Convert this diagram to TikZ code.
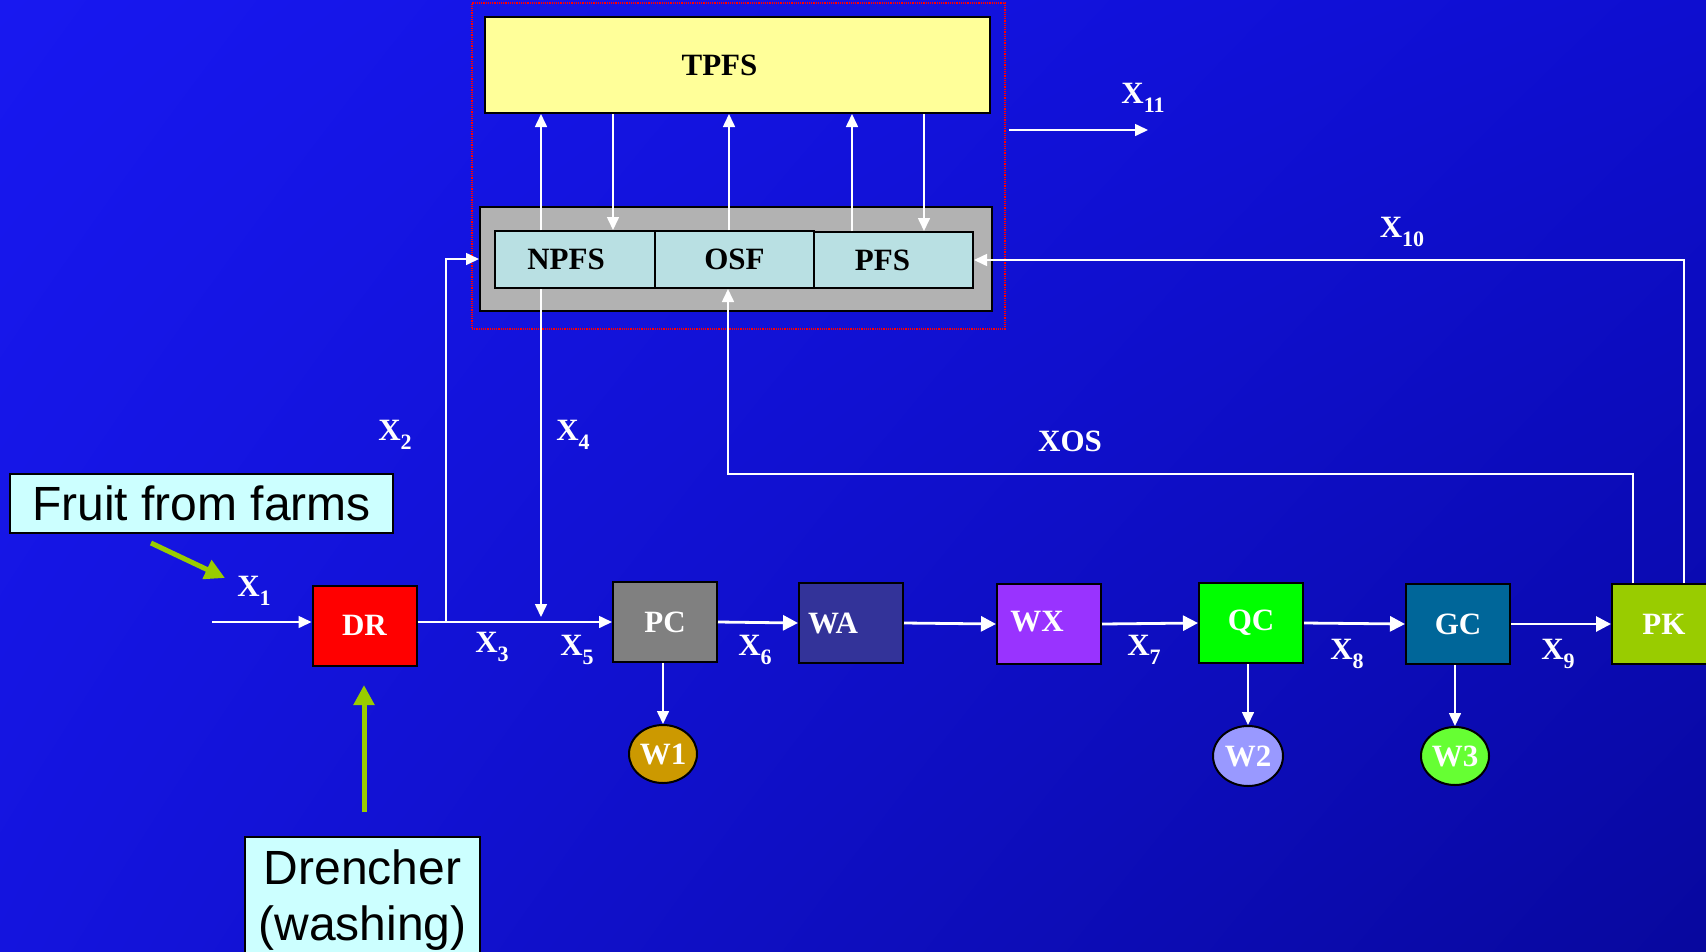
\documentclass[tikz,border=0pt]{standalone}
\usepackage{fontspec}
\setmainfont{Liberation Serif}
\newfontfamily\arialfont{Liberation Sans}
\usetikzlibrary{arrows.meta,calc,shadings,shapes.geometric}
\definecolor{bgUL}{RGB}{24,24,240}
\definecolor{bgLL}{RGB}{20,20,222}
\definecolor{bgUR}{RGB}{14,14,208}
\definecolor{bgLR}{RGB}{8,8,158}
\definecolor{cDR}{RGB}{255,0,0}
\definecolor{cPC}{RGB}{128,128,128}
\definecolor{cWA}{RGB}{51,51,153}
\definecolor{cWX}{RGB}{153,51,255}
\definecolor{cQC}{RGB}{0,255,0}
\definecolor{cGC}{RGB}{0,102,153}
\definecolor{cPK}{RGB}{153,204,0}
\definecolor{cW1}{RGB}{204,153,0}
\definecolor{cW2}{RGB}{153,153,255}
\definecolor{cW3}{RGB}{102,255,51}
\definecolor{cTPFS}{RGB}{255,255,153}
\definecolor{cGray}{RGB}{178,178,178}
\definecolor{cSub}{RGB}{185,224,227}
\definecolor{cNote}{RGB}{204,255,255}
\definecolor{cGreen}{RGB}{153,204,0}
\newcommand\Xlab[1]{X\raisebox{-0.3em}{\fontsize{22}{22}\selectfont #1}}
\tikzset{
  lbl/.style={font=\fontsize{31}{36}\selectfont\bfseries},
  unit/.style={draw=black,line width=2pt,minimum width=104pt,minimum height=80pt,inner sep=0pt,
     text=white,font=\fontsize{31}{36}\selectfont\bfseries},
  waste/.style={ellipse,draw=black,line width=2pt,minimum width=68pt,minimum height=58pt,inner sep=0pt,
     text=white,font=\fontsize{31}{36}\selectfont\bfseries},
  sub/.style={draw=black,line width=2pt,fill=cSub,inner sep=0pt,minimum height=57pt,
     font=\fontsize{31}{36}\selectfont\bfseries},
  note/.style={draw=black,line width=2pt,fill=cNote,inner sep=0pt,
     font=\arialfont\fontsize{48}{56}\selectfont},
  notetext/.style={inner sep=0pt,font=\arialfont\fontsize{48}{56}\selectfont},
  flow/.style={draw=white,line width=1.6pt,-{Triangle[length=13pt,width=12pt]}},
  mainflow/.style={draw=white,line width=2.8pt,-{Triangle[length=15pt,width=15pt]}},
  garrow/.style={draw=cGreen,line width=5pt,-{Triangle[length=20pt,width=20pt]}},
  xlabel/.style={text=white,font=\fontsize{31}{36}\selectfont\bfseries,inner sep=0pt}
}
\begin{document}
\begin{tikzpicture}[x=1pt,y=-1pt]
\useasboundingbox (0,0) rectangle (1706,951);
\clip (0,0) rectangle (1706,951);
\shade[upper left=bgUL,lower left=bgLL,upper right=bgUR,lower right=bgLR] (0,0) rectangle (1706,951);

% red dotted frame
\node[draw=red,densely dotted,line width=1.2pt,minimum width=533pt,minimum height=326pt,inner sep=0pt] (frame) at (738.5,166) {};

% upper system
\node[draw=black,line width=2pt,fill=cTPFS,minimum width=505pt,minimum height=96pt,inner sep=0pt,
      label={[lbl,xshift=-18pt]center:TPFS}] (TPFS) at (737.5,65) {};
\node[draw=black,line width=2pt,fill=cGray,minimum width=512pt,minimum height=104pt,inner sep=0pt] (gray) at (736,259) {};
\node[sub,minimum width=160pt,label={[lbl,xshift=-9pt]center:NPFS}] (NPFS) at (575,259.5) {};
\node[sub,minimum width=159pt,label={[lbl]center:OSF}] (OSF) at (734.5,259.5) {};
\node[sub,minimum width=159pt,minimum height=56pt,label={[lbl,xshift=-11pt]center:PFS}] (PFS) at (893.5,260) {};

% process units
\node[unit,fill=cDR] (DR) at (364.5,625.5) {DR};
\node[unit,fill=cPC] (PC) at (665,622) {PC};
\node[unit,fill=cWA,label={[text=white,font=\fontsize{31}{36}\selectfont\bfseries,xshift=-18pt]center:WA}] (WA) at (851,623) {};
\node[unit,fill=cWX,label={[text=white,font=\fontsize{31}{36}\selectfont\bfseries,xshift=-12pt,yshift=2pt]center:WX}] (WX) at (1049,624) {};
\node[unit,fill=cQC] (QC) at (1251,623) {QC};
\node[unit,fill=cGC] (GC) at (1458,624) {GC};
\node[unit,fill=cPK] (PK) at (1664,624) {PK};

\node[waste,fill=cW1] (W1) at (663,754) {W1};
\node[waste,fill=cW2,minimum width=70pt,minimum height=60pt] (W2) at (1248,756) {W2};
\node[waste,fill=cW3] (W3) at (1455,756) {W3};

% notes
\node[note,minimum width=383pt,minimum height=59pt] (fruit) at (201.5,503.5) {Fruit from farms};
\node[note,minimum width=235pt,minimum height=140pt,anchor=north] (drench) at (362.5,836) {};
\node[notetext] (drenchA) at (362.5,867) {Drencher};
\node[notetext] (drenchB) at (362.5,928) {(washing)};

% coordinates
\coordinate (x1s) at (212,622);
\coordinate (j2) at (446,622);
\coordinate (c1) at (541,0);
\coordinate (c2) at (613,0);
\coordinate (c3) at (729,0);
\coordinate (c4) at (852,0);
\coordinate (c5) at (924,0);
\coordinate (x4e) at (541,617);
\coordinate (xosA) at (1633,0);
\coordinate (xosY) at (0,474);
\coordinate (xosX) at (728,0);
\coordinate (x10A) at (1684,0);
\coordinate (x11s) at (1009,130);
\coordinate (x11e) at (1148,130);
\coordinate (gfs) at (151,543);
\coordinate (gfe) at (225,578);
\coordinate (gds) at (364,812);
\coordinate (gde) at (364,685);

% connectors
\draw[flow] (x1s) -- (x1s -| DR.west);
\draw[flow] (DR.east |- PC.west) -- (PC.west);
\draw[flow] (j2) |- (gray.west);
\draw[flow] (x4e |- NPFS.south) -- (x4e);
\draw[flow] (c1 |- NPFS.north) -- (c1 |- TPFS.south);
\draw[flow] (c2 |- TPFS.south) -- (c2 |- NPFS.north);
\draw[flow] (c3 |- OSF.north) -- (c3 |- TPFS.south);
\draw[flow] (c4 |- PFS.north) -- (c4 |- TPFS.south);
\draw[flow] (c5 |- TPFS.south) -- (c5 |- PFS.north);
\draw[mainflow] (PC.east) -- (WA.west);
\draw[mainflow] (WA.east) -- (WX.west);
\draw[mainflow] (WX.east) -- (QC.west);
\draw[mainflow] (QC.east) -- (GC.west);
\draw[mainflow] (GC.east) -- (PK.west);
\draw[flow] (W1.north |- PC.south) -- (W1.north);
\draw[flow] (W2.north |- QC.south) -- (W2.north);
\draw[flow] (W3.north |- GC.south) -- (W3.north);
\draw[flow] (xosA |- PK.north) -- (xosA |- xosY) -- (xosX |- xosY) -- (xosX |- OSF.south);
\draw[flow] (x10A |- PK.north) |- (PFS.east);
\draw[flow] (x11s) -- (x11e);
\draw[garrow] (gfs) -- (gfe);
\draw[garrow] (gds) -- (gde);

% labels
\node[xlabel] (lX1) at (254,591) {\Xlab{1}};
\node[xlabel] (lX2) at (395,435) {\Xlab{2}};
\node[xlabel] (lX3) at (492,647) {\Xlab{3}};
\node[xlabel] (lX4) at (573,435) {\Xlab{4}};
\node[xlabel] (lX5) at (577,650) {\Xlab{5}};
\node[xlabel] (lX6) at (755,650) {\Xlab{6}};
\node[xlabel] (lX7) at (1144,650) {\Xlab{7}};
\node[xlabel] (lX8) at (1347,654) {\Xlab{8}};
\node[xlabel] (lX9) at (1558,654) {\Xlab{9}};
\node[xlabel] (lX10) at (1402,232) {\Xlab{10}};
\node[xlabel] (lX11) at (1143,98) {\Xlab{11}};
\node[xlabel] (lXOS) at (1070,441) {XOS};
\end{tikzpicture}
\end{document}
